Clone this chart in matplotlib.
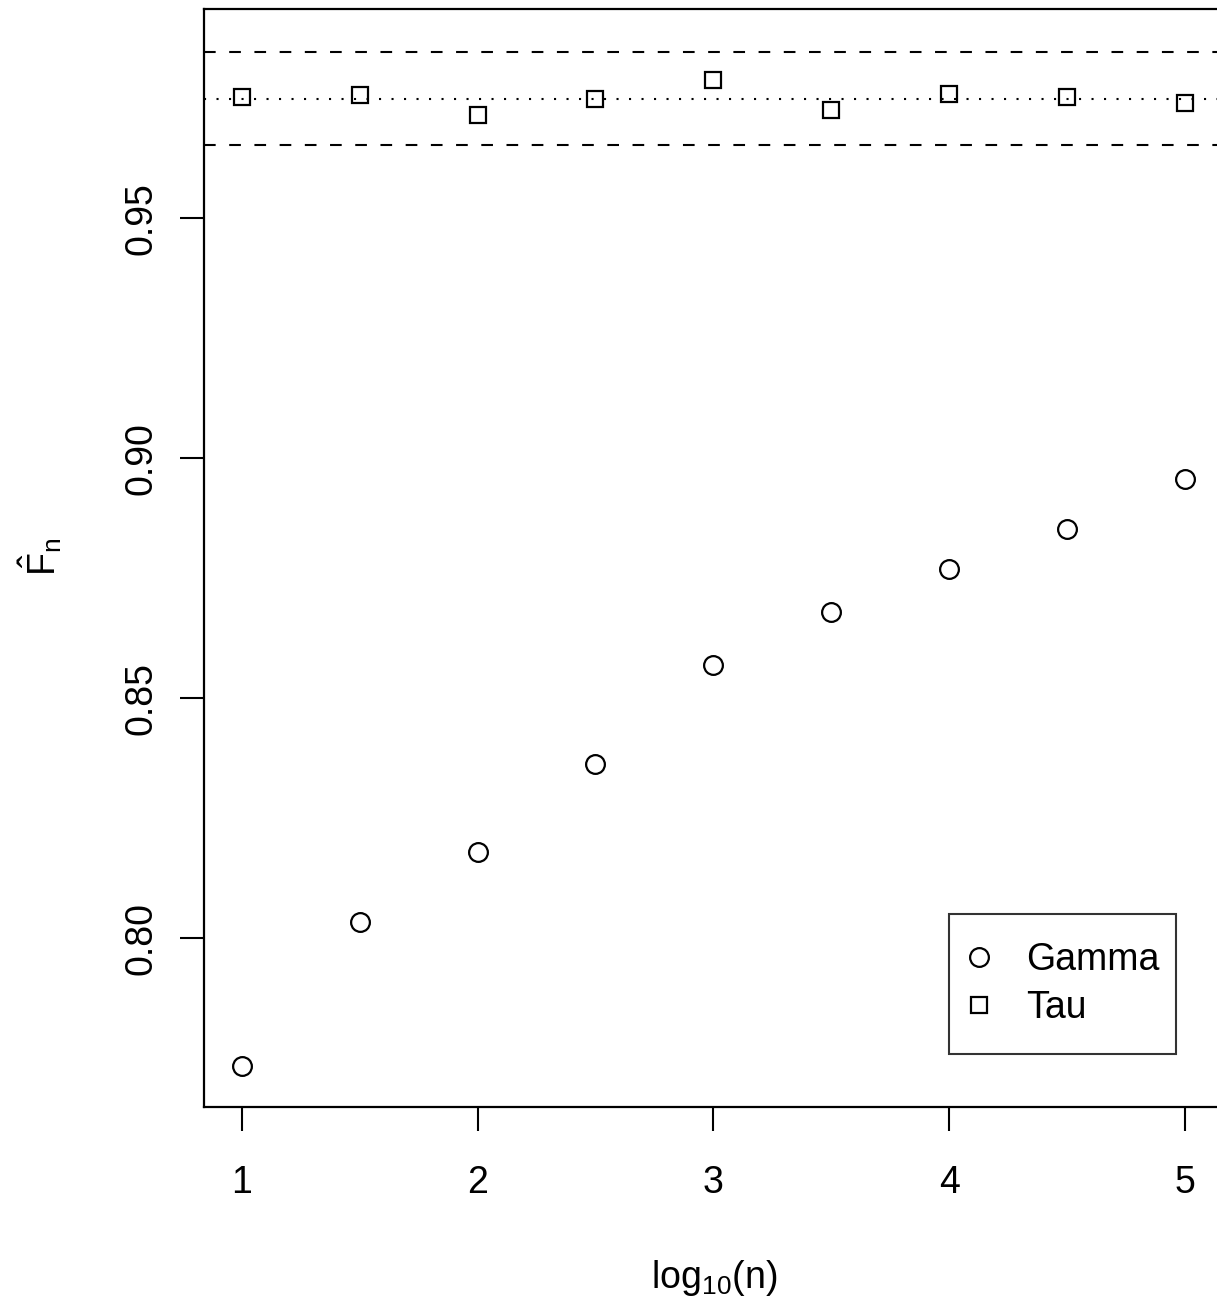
import matplotlib
matplotlib.use("Agg")
import matplotlib.pyplot as plt

plt.rcParams['font.family'] = ['Liberation Sans', 'DejaVu Sans']
plt.rcParams['mathtext.fontset'] = 'custom'
plt.rcParams['mathtext.rm'] = 'Liberation Sans'
plt.rcParams['mathtext.it'] = 'Liberation Sans:italic'
plt.rcParams['mathtext.bf'] = 'Liberation Sans:bold'
plt.rcParams['mathtext.sf'] = 'Liberation Sans'

# data
log_n = [1, 1.5, 2, 2.5, 3, 3.5, 4, 4.5, 5]
gamma = [0.7733, 0.8035, 0.8179, 0.8363, 0.8569, 0.8680, 0.8769, 0.8852, 0.8957]
tau = [0.9753, 0.9757, 0.9715, 0.9748, 0.9788, 0.9726, 0.9758, 0.9752, 0.9740]
ref_mid = 0.9749
ref_lo = 0.9652
ref_hi = 0.9847
xticks = [1, 2, 3, 4, 5]
yticks = [0.80, 0.85, 0.90, 0.95]
ytick_labels = ["0.80", "0.85", "0.90", "0.95"]

W, H = 1217, 1308
fig = plt.figure(figsize=(W / 100, H / 100), dpi=100)
left, right, top, bottom = 204, 1222.7, 9, 1106.7
ax = fig.add_axes([left / W, (H - bottom) / H, (right - left) / W, (bottom - top) / H])
ax.set_xlim(0.84, 5.16)
ax.set_ylim(0.76492, 0.99360)

lw = 1.5
ax.axhline(ref_hi, color='black', lw=lw, linestyle=(0, (5.6, 6.5)), dash_capstyle='butt')
ax.axhline(ref_lo, color='black', lw=lw, linestyle=(0, (5.6, 6.5)), dash_capstyle='butt')
ax.axhline(ref_mid, color='black', lw=lw, linestyle=(0, (1, 5)), dash_capstyle='butt')

ax.plot(log_n, gamma, linestyle='none', marker='o', ms=13.5, mfc='none', mec='black', mew=1.6, label='Gamma')
ax.plot(log_n, tau, linestyle='none', marker='s', ms=11.5, mfc='none', mec='black', mew=1.6, label='Tau')

for s in ax.spines.values():
    s.set_linewidth(1.6)

fs = 27
ax.set_xticks(xticks)
ax.set_xticklabels([str(v) for v in xticks])
ax.set_yticks(yticks)
ax.set_yticklabels(ytick_labels, rotation=90, va='center')
ax.tick_params(axis='both', length=17, width=1.5, labelsize=fs, direction='out')
ax.tick_params(axis='x', pad=25)
ax.tick_params(axis='y', pad=15)

fig.text(714 / W, 1 - 1278 / H, r'log$_{10}$(n)', ha='center', va='center', fontsize=fs)
fig.text(40 / W, 1 - 557 / H, r'$\hat{\mathrm{F}}_{\mathrm{n}}$', ha='center', va='center',
         fontsize=fs, rotation=90)

x0 = (949 - left) / (right - left)
x1 = (1176 - left) / (right - left)
y1 = (bottom - 914) / (bottom - top)
y0 = (bottom - 1054) / (bottom - top)
leg = ax.legend(loc='center', bbox_to_anchor=(x0, y0, x1 - x0, y1 - y0), mode='expand',
                fontsize=fs, frameon=True, fancybox=False, edgecolor='black',
                handlelength=0.1, handletextpad=1.2, borderpad=0.75, labelspacing=0.33,
                borderaxespad=0)
leg.get_frame().set_linewidth(1.5)

fig.savefig('out.png', dpi=100)
